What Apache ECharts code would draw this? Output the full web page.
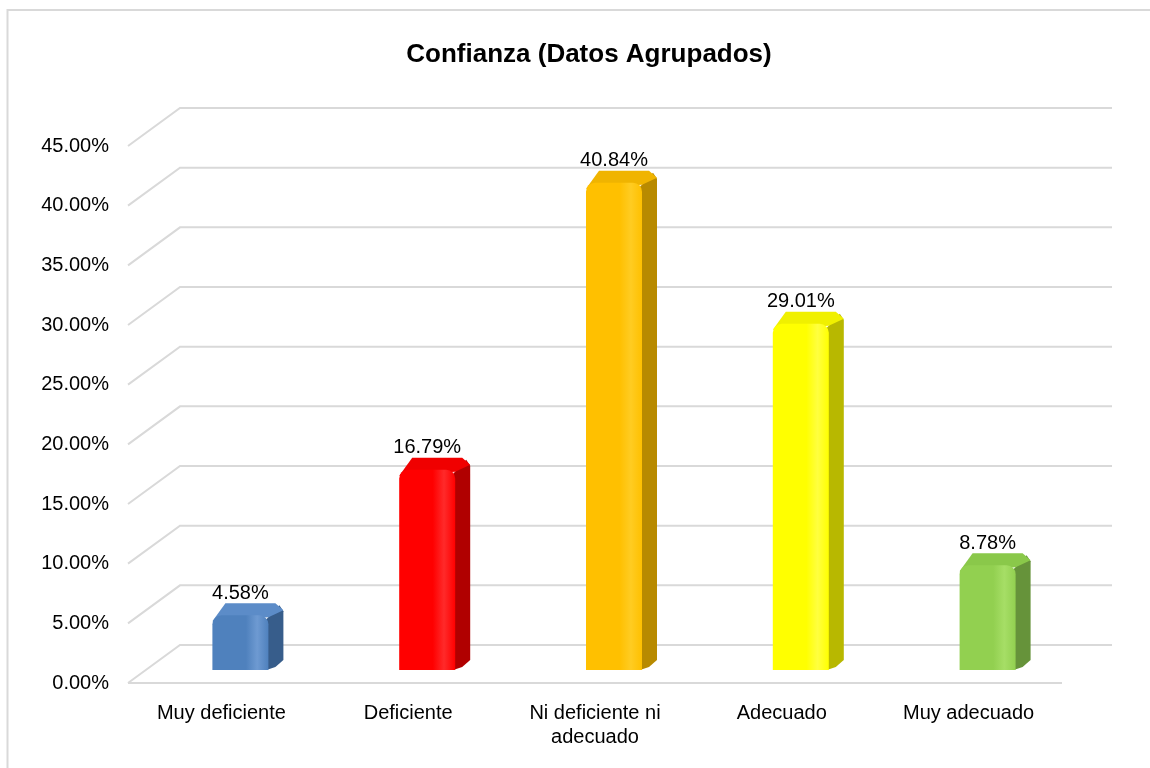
<!DOCTYPE html>
<html>
<head>
<meta charset="utf-8">
<script src="https://cdn.jsdelivr.net/npm/echarts@6/dist/echarts.min.js"></script>
<style>html,body{margin:0;padding:0;background:#fff;}#c{width:1150px;height:768px;}</style>
</head>
<body>
<div id="c"></div>
<script>
const categories = ['Muy deficiente', 'Deficiente', 'Ni deficiente ni\nadecuado', 'Adecuado', 'Muy adecuado'];
const values = [4.58, 16.79, 40.84, 29.01, 8.78];
const tickValues = [0, 5, 10, 15, 20, 25, 30, 35, 40, 45];
const titleText = 'Confianza (Datos Agrupados)';

const FONT = '"Liberation Sans", Arial, sans-serif';
const palette = [
  { front: '#4F81BD', light: '#6E9AD2', side: '#375D8B', top: '#5C8CC8' },
  { front: '#FF0000', light: '#FF2A2A', side: '#B00000', top: '#F00000' },
  { front: '#FFC000', light: '#FFCC22', side: '#B88A00', top: '#F0B400' },
  { front: '#FFFF00', light: '#FFFF40', side: '#B8B800', top: '#F0F000' },
  { front: '#92D050', light: '#A6DE66', side: '#66933A', top: '#8AC84A' }
];

const DX = 52, DY = 38;           // perspective depth of the floor
const BX = 19, BY = -13;          // bar front face offset from front plane
const BW = 56;                    // bar front width
const SD = 15, SDY = 12;          // bar depth

const chart = echarts.init(document.getElementById('c'));
chart.setOption({
  animation: false,
  title: {
    text: titleText, left: 584, top: 37, textAlign: 'center',
    textStyle: { fontFamily: FONT, fontSize: 26, fontWeight: 'bold', color: '#000' }
  },
  graphic: [{
    type: 'rect', shape: { x: 7.5, y: 10, width: 1200, height: 800 },
    style: { fill: 'none', stroke: '#D9D9D9', lineWidth: 2 }, silent: true
  }],
  grid: { left: 128, right: 88, top: 146, bottom: 85 },
  xAxis: {
    type: 'category', data: categories,
    axisLine: { show: false }, axisTick: { show: false }, splitLine: { show: false },
    axisLabel: { interval: 0, fontFamily: FONT, fontSize: 20, color: '#000', margin: 18, lineHeight: 24 }
  },
  yAxis: {
    type: 'value', min: 0, max: 45, interval: 5,
    axisLine: { show: false }, axisTick: { show: false }, splitLine: { show: false },
    axisLabel: { fontFamily: FONT, fontSize: 20, color: '#000', margin: 19,
      formatter: v => v.toFixed(2) + '%' }
  },
  series: [
    {
      type: 'custom', silent: true, z: 1,
      data: tickValues.map(v => [0, v]),
      renderItem: function (params, api) {
        const cs = params.coordSys;
        const v = api.value(1);
        const y = api.coord([0, v])[1];
        const l = cs.x, r = cs.x + cs.width;
        const children = [{
          type: 'polyline',
          shape: { points: [[l, y], [l + DX, y - DY], [r + DX - 2, y - DY]] },
          style: { stroke: '#D9D9D9', lineWidth: 2, fill: 'none' }
        }];
        if (v === 0) {
          children.push({ type: 'line', shape: { x1: l, y1: y, x2: r, y2: y },
            style: { stroke: '#D9D9D9', lineWidth: 2 } });
        }
        return { type: 'group', children };
      }
    },
    {
      type: 'custom', silent: true, z: 2,
      data: values.map((v, i) => [i, v]),
      renderItem: function (params, api) {
        const i = api.value(0), v = api.value(1);
        const p0 = api.coord([i, 0]);
        const p1 = api.coord([i, v]);
        const c = palette[i];
        const cx = p0[0] + BX;
        const xl = cx - BW / 2, xr = cx + BW / 2;
        const yb = p0[1] + BY, yt = p1[1] + BY;
        const r = 9;
        return {
          type: 'group',
          children: [
            { // side face
              type: 'polygon',
              shape: { points: [[xr - 2, yt + 4], [xr + SD - 4, yt - SDY + 2], [xr + SD, yt - SDY + 8], [xr + SD, yb - SDY + 2], [xr + SD - 8, yb - 3], [xr - 2, yb]] },
              style: { fill: c.side }
            },
            { // top face
              type: 'polygon', smooth: 0.25,
              shape: { points: [[xl, yt + 6], [xl + SD - 2, yt - SDY], [xr + SD - 8, yt - SDY], [xr + SD, yt - SDY + 7], [xr, yt + 2]] },
              style: { fill: c.top }
            },
            { // front face
              type: 'rect',
              shape: { x: xl, y: yt, width: BW, height: yb - yt, r: [r, r, 0, 0] },
              style: { fill: new echarts.graphic.LinearGradient(0, 0, 1, 0, [
                { offset: 0, color: c.front }, { offset: 0.6, color: c.front },
                { offset: 0.8, color: c.light }, { offset: 1, color: c.front }]) }
            },
            { // label
              type: 'text',
              style: { text: v.toFixed(2) + '%', x: cx, y: yt - SDY,
                align: 'center', verticalAlign: 'bottom',
                font: '20px ' + FONT, fill: '#000' }
            }
          ]
        };
      }
    }
  ]
});
</script>
</body>
</html>
